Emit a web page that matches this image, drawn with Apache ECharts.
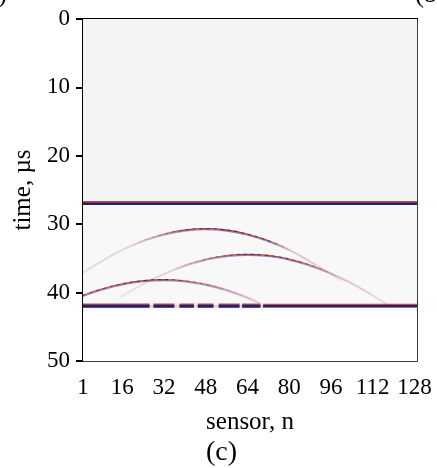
<!DOCTYPE html>
<html>
<head>
<meta charset="utf-8">
<script src="https://cdn.jsdelivr.net/npm/echarts@6/dist/echarts.min.js"></script>
<style>
html,body{margin:0;padding:0;background:#fff;}
#chart{width:437px;height:468px;}
</style>
</head>
<body>
<div id="chart"></div>
<script>
// ---- data ----
const sensorTicks = [1, 16, 32, 48, 64, 80, 96, 112, 128];
const timeTicks = [0, 10, 20, 30, 40, 50];
const bgBands = [[0, 27], [27, 42.6], [42.6, 50]];
const echo27 = [[1, 27], [129, 27]];
const echo42 = [[1, 42], [129, 42]];
const echo42Segments = [[1, 26.5], [28, 36], [38, 43.5], [45, 51], [53, 61], [62, 69], [70, 129]];
const arc1 = [[1, 37.0], [8, 35.4], [16, 33.7], [24, 32.4], [32, 31.45], [40, 30.85], [48, 30.65], [56, 30.85], [64, 31.45], [72, 32.4], [80, 33.7], [88, 35.4], [96, 37.25], [100, 38.3]];
const arc2 = [[15, 40.67], [24, 38.7], [32, 37.22], [40, 36.02], [48, 35.13], [56, 34.59], [64, 34.4], [72, 34.57], [80, 35.1], [88, 35.97], [96, 37.15], [104, 38.62], [112, 40.35], [118, 41.79]];
const arc3 = [[1, 40.42], [8, 39.5], [16, 38.72], [24, 38.25], [32, 38.1], [40, 38.28], [48, 38.78], [56, 39.59], [64, 40.69], [69, 41.52]];

const chart = echarts.init(document.getElementById('chart'), null, {renderer: 'canvas'});
const FONT = '"Liberation Serif", "Times New Roman", serif';

function grad(rgb, stops) {
  return {type: 'linear', x: 0, y: 0, x2: 1, y2: 0,
    colorStops: stops.map(s => ({offset: s[0], color: 'rgba(' + rgb + ',' + s[1] + ')'}))};
}
function arcSeries(data, stops) {
  return [
    {
      type: 'line', data: data, smooth: true, showSymbol: false, silent: true, z: 3,
      lineStyle: {width: 1.3, color: grad('195,55,60', stops), shadowColor: 'rgba(40,60,150,0.6)', shadowOffsetY: 1, shadowBlur: 0}
    },
    {
      type: 'line', data: data, smooth: true, showSymbol: false, silent: true, z: 4,
      lineStyle: {width: 1.1, type: [3, 4], color: grad('25,25,90', stops.map(s => [s[0], Math.max(0, s[1] - 0.35)]))}
    }
  ];
}
const bandColors = ['#f3f5f5', '#f8f8f8', '#ffffff'];

const series = [
  {
    type: 'line', data: [], silent: true,
    markArea: {silent: true, data: bgBands.map((b, i) => [{yAxis: b[0], itemStyle: {color: bandColors[i]}}, {yAxis: b[1]}])}
  },
  {
    type: 'line', data: echo27, showSymbol: false, silent: true, z: 6,
    lineStyle: {width: 2.6, color: '#22226a', shadowColor: 'rgba(200,40,40,0.85)', shadowOffsetY: -1.3, shadowBlur: 0}
  },
  {
    type: 'line', data: echo42, showSymbol: false, silent: true, z: 3,
    lineStyle: {width: 3, color: 'rgba(225,170,170,0.45)'}
  }
];
series.push(...arcSeries(arc1, [[0, 0.12], [0.2, 0.2], [0.3, 0.55], [0.42, 0.95], [0.5, 1], [0.7, 0.9], [0.8, 0.3], [1, 0.08]]));
series.push(...arcSeries(arc2, [[0, 0.1], [0.2, 0.2], [0.32, 0.6], [0.45, 1], [0.55, 1], [0.68, 0.85], [0.8, 0.3], [1, 0.1]]));
series.push(...arcSeries(arc3, [[0, 0.8], [0.45, 1], [0.7, 0.6], [1, 0.2]]));
echo42Segments.forEach((seg, i) => {
  series.push({
    type: 'line', data: [[seg[0], 42], [seg[1], 42]], showSymbol: false, silent: true, z: 6,
    lineStyle: {width: i < echo42Segments.length - 1 ? 3 : 2.4, color: '#22226a', shadowColor: 'rgba(200,40,40,0.85)', shadowOffsetY: -1.3, shadowBlur: 0}
  });
});

chart.setOption({
  animation: false,
  backgroundColor: '#ffffff',
  grid: {left: 83, top: 19, width: 334, height: 342, show: true, borderColor: '#000', borderWidth: 1.5, backgroundColor: 'transparent'},
  xAxis: {
    type: 'value', min: 1, max: 129,
    name: 'sensor, n', nameLocation: 'middle', nameGap: 49,
    nameTextStyle: {fontFamily: FONT, fontSize: 25, color: '#000'},
    axisLine: {show: true, lineStyle: {color: '#000', width: 2}},
    axisTick: {show: true, customValues: sensorTicks, length: 6, lineStyle: {color: '#000', width: 2}},
    axisLabel: {customValues: sensorTicks, fontFamily: FONT, fontSize: 23, color: '#000', margin: 15},
    splitLine: {show: false}
  },
  yAxis: {
    type: 'value', inverse: true, min: 0, max: 50, interval: 10,
    name: 'time, µs', nameLocation: 'middle', nameGap: 47, nameRotate: 90,
    nameTextStyle: {fontFamily: FONT, fontSize: 25, color: '#000'},
    axisLine: {show: true, lineStyle: {color: '#000', width: 2}},
    axisTick: {show: true, length: 7, lineStyle: {color: '#000', width: 2}},
    axisLabel: {customValues: timeTicks, fontFamily: FONT, fontSize: 23, color: '#000', margin: 13},
    splitLine: {show: false}
  },
  graphic: [
    {type: 'text', left: 206, top: 439, style: {text: '(c)', font: '28px ' + FONT, fill: '#000'}},
    {type: 'text', right: 430, top: -19, style: {text: '(a)', font: '27px ' + FONT, fill: '#000'}},
    {type: 'text', left: 415, top: -19, style: {text: '(b)', font: '27px ' + FONT, fill: '#000'}}
  ],
  series: series
});
</script>
</body>
</html>
